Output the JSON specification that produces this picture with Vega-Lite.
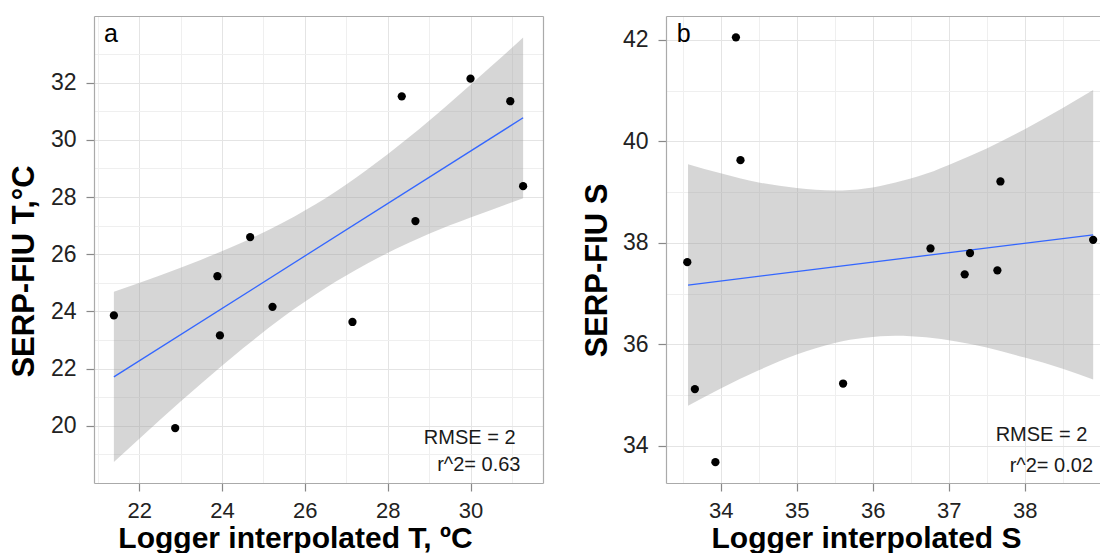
{
  "$schema": "https://vega.github.io/schema/vega-lite/v6.json",
  "padding": {"left": 8, "top": 16, "right": 0, "bottom": 0},
  "spacing": 38,
  "config": {
    "view": {"stroke": null},
    "font": "Liberation Sans",
    "axis": {
      "labelFont": "Liberation Sans", "labelFontSize": 23, "labelColor": "#222222",
      "titleFont": "Liberation Sans", "titleFontWeight": "bold", "titleColor": "#000000",
      "tickColor": "#888888", "tickSize": 8, "tickWidth": 1.2,
      "domainColor": "#aaaaaa", "domainWidth": 1.2,
      "gridColor": "#e4e4e4", "gridWidth": 1
    }
  },
  "datasets": {
    "pointsA": [
      {"x": 21.39, "y": 23.86}, {"x": 22.87, "y": 19.92}, {"x": 23.89, "y": 25.23},
      {"x": 23.95, "y": 23.16}, {"x": 24.68, "y": 26.6}, {"x": 25.22, "y": 24.16},
      {"x": 27.15, "y": 23.63}, {"x": 28.34, "y": 31.52}, {"x": 28.67, "y": 27.16},
      {"x": 30.0, "y": 32.14}, {"x": 30.96, "y": 31.35}, {"x": 31.27, "y": 28.38}
    ],
    "bandA": [
      {"x": 21.39, "lo": 18.73, "hi": 24.69}, {"x": 22.5, "lo": 20.2, "hi": 25.26},
      {"x": 23.5, "lo": 21.48, "hi": 25.81}, {"x": 24.5, "lo": 22.7, "hi": 26.42},
      {"x": 25.5, "lo": 23.83, "hi": 27.13}, {"x": 26.5, "lo": 24.82, "hi": 27.96},
      {"x": 27.5, "lo": 25.67, "hi": 28.95}, {"x": 28.5, "lo": 26.39, "hi": 30.07},
      {"x": 29.5, "lo": 27.01, "hi": 31.29}, {"x": 30.5, "lo": 27.55, "hi": 32.57},
      {"x": 31.27, "lo": 27.96, "hi": 33.58}
    ],
    "lineA": [{"x": 21.39, "y": 21.71}, {"x": 31.27, "y": 30.77}],
    "statsA": [
      {"x": 29.98, "y": 19.37, "label": "RMSE = 2"},
      {"x": 30.2, "y": 18.42, "label": "r^2= 0.63"}
    ],
    "tagA": [{"x": 21.15, "y": 33.43, "label": "a"}],
    "pointsB": [
      {"x": 34.2, "y": 42.05}, {"x": 34.26, "y": 39.63}, {"x": 37.68, "y": 39.21},
      {"x": 36.76, "y": 37.89}, {"x": 37.28, "y": 37.8}, {"x": 33.56, "y": 37.62},
      {"x": 38.9, "y": 38.06}, {"x": 37.21, "y": 37.38}, {"x": 37.64, "y": 37.46},
      {"x": 33.66, "y": 35.12}, {"x": 35.61, "y": 35.23}, {"x": 33.93, "y": 33.68}
    ],
    "bandB": [
      {"x": 33.57, "lo": 34.79, "hi": 39.55}, {"x": 34.0, "lo": 35.13, "hi": 39.37},
      {"x": 34.5, "lo": 35.49, "hi": 39.19}, {"x": 35.0, "lo": 35.8, "hi": 39.08},
      {"x": 35.5, "lo": 36.03, "hi": 39.03}, {"x": 35.9, "lo": 36.13, "hi": 39.07},
      {"x": 36.3, "lo": 36.17, "hi": 39.19}, {"x": 36.7, "lo": 36.14, "hi": 39.36},
      {"x": 37.1, "lo": 36.06, "hi": 39.6}, {"x": 37.5, "lo": 35.94, "hi": 39.86},
      {"x": 38.0, "lo": 35.74, "hi": 40.24}, {"x": 38.5, "lo": 35.52, "hi": 40.66},
      {"x": 38.9, "lo": 35.31, "hi": 41.01}
    ],
    "lineB": [{"x": 33.57, "y": 37.17}, {"x": 38.9, "y": 38.16}],
    "statsB": [
      {"x": 38.22, "y": 34.1, "label": "RMSE = 2"},
      {"x": 38.35, "y": 33.49, "label": "r^2= 0.02"}
    ],
    "tagB": [{"x": 33.42, "y": 41.95, "label": "b"}]
  },
  "hconcat": [
    {
      "width": 449,
      "height": 467,
      "resolve": {"axis": {"x": "independent", "y": "independent"}},
      "layer": [
        {
          "data": {"name": "bandA"},
          "mark": {"type": "area", "interpolate": "monotone", "fill": "#999999", "opacity": 0.4},
          "encoding": {
            "x": {"field": "x", "type": "quantitative",
              "scale": {"domain": [20.91, 31.75], "nice": false, "zero": false},
              "axis": {"orient": "top", "values": [21, 23, 25, 27, 29, 31], "grid": true, "gridColor": "#efefef",
                "ticks": false, "labels": false, "domain": true, "title": null}},
            "y": {"field": "lo", "type": "quantitative",
              "scale": {"domain": [18.0, 34.33], "nice": false, "zero": false},
              "axis": {"orient": "right", "values": [19, 21, 23, 25, 27, 29, 31, 33], "grid": true, "gridColor": "#efefef",
                "ticks": false, "labels": false, "domain": true, "title": null}},
            "y2": {"field": "hi"}
          }
        },
        {
          "data": {"name": "lineA"},
          "mark": {"type": "line", "color": "#3366FF", "strokeWidth": 1.3},
          "encoding": {
            "x": {"field": "x", "type": "quantitative",
              "axis": {"orient": "bottom", "values": [22, 24, 26, 28, 30], "grid": true, "labelPadding": 9, "labelFontSize": 22,
                "title": "Logger interpolated T, ºC", "titleFontSize": 30, "titlePadding": 2, "titleX": 201}},
            "y": {"field": "y", "type": "quantitative",
              "axis": {"orient": "left", "values": [20, 22, 24, 26, 28, 30, 32], "grid": true, "labelPadding": 10,
                "title": "SERP-FIU T,°C", "titleFontSize": 31, "titlePadding": 10, "titleY": 255}}
          }
        },
        {
          "data": {"name": "pointsA"},
          "mark": {"type": "circle", "color": "#000000", "size": 68, "opacity": 1},
          "encoding": {
            "x": {"field": "x", "type": "quantitative", "axis": null},
            "y": {"field": "y", "type": "quantitative", "axis": null}
          }
        },
        {
          "data": {"name": "statsA"},
          "mark": {"type": "text", "fontSize": 20, "color": "#1a1a1a", "align": "center", "baseline": "alphabetic"},
          "encoding": {
            "x": {"field": "x", "type": "quantitative", "axis": null},
            "y": {"field": "y", "type": "quantitative", "axis": null},
            "text": {"field": "label"}
          }
        },
        {
          "data": {"name": "tagA"},
          "mark": {"type": "text", "fontSize": 25, "color": "#000000", "align": "left", "baseline": "alphabetic"},
          "encoding": {
            "x": {"field": "x", "type": "quantitative", "axis": null},
            "y": {"field": "y", "type": "quantitative", "axis": null},
            "text": {"field": "label"}
          }
        }
      ]
    },
    {
      "width": 434,
      "height": 467,
      "resolve": {"axis": {"x": "independent", "y": "independent"}},
      "layer": [
        {
          "data": {"name": "bandB"},
          "mark": {"type": "area", "interpolate": "monotone", "fill": "#999999", "opacity": 0.4},
          "encoding": {
            "x": {"field": "x", "type": "quantitative",
              "scale": {"domain": [33.28, 38.99], "nice": false, "zero": false},
              "axis": {"orient": "top", "values": [33.5, 34.5, 35.5, 36.5, 37.5, 38.5], "grid": true, "gridColor": "#efefef",
                "ticks": false, "labels": false, "domain": true, "title": null}},
            "y": {"field": "lo", "type": "quantitative",
              "scale": {"domain": [33.27, 42.47], "nice": false, "zero": false},
              "axis": {"orient": "right", "values": [35, 37, 39, 41], "grid": true, "gridColor": "#efefef",
                "ticks": false, "labels": false, "domain": false, "title": null}},
            "y2": {"field": "hi"}
          }
        },
        {
          "data": {"name": "lineB"},
          "mark": {"type": "line", "color": "#3366FF", "strokeWidth": 1.3},
          "encoding": {
            "x": {"field": "x", "type": "quantitative",
              "axis": {"orient": "bottom", "values": [34, 35, 36, 37, 38], "grid": true, "labelPadding": 9, "labelFontSize": 22,
                "title": "Logger interpolated S", "titleFontSize": 30, "titlePadding": 2, "titleX": 200}},
            "y": {"field": "y", "type": "quantitative",
              "axis": {"orient": "left", "values": [34, 36, 38, 40, 42], "grid": true, "labelPadding": 10,
                "title": "SERP-FIU S", "titleFontSize": 31, "titlePadding": 9, "titleY": 254}}
          }
        },
        {
          "data": {"name": "pointsB"},
          "mark": {"type": "circle", "color": "#000000", "size": 68, "opacity": 1},
          "encoding": {
            "x": {"field": "x", "type": "quantitative", "axis": null},
            "y": {"field": "y", "type": "quantitative", "axis": null}
          }
        },
        {
          "data": {"name": "statsB"},
          "mark": {"type": "text", "fontSize": 20, "color": "#1a1a1a", "align": "center", "baseline": "alphabetic"},
          "encoding": {
            "x": {"field": "x", "type": "quantitative", "axis": null},
            "y": {"field": "y", "type": "quantitative", "axis": null},
            "text": {"field": "label"}
          }
        },
        {
          "data": {"name": "tagB"},
          "mark": {"type": "text", "fontSize": 25, "color": "#000000", "align": "left", "baseline": "alphabetic"},
          "encoding": {
            "x": {"field": "x", "type": "quantitative", "axis": null},
            "y": {"field": "y", "type": "quantitative", "axis": null},
            "text": {"field": "label"}
          }
        }
      ]
    }
  ]
}
